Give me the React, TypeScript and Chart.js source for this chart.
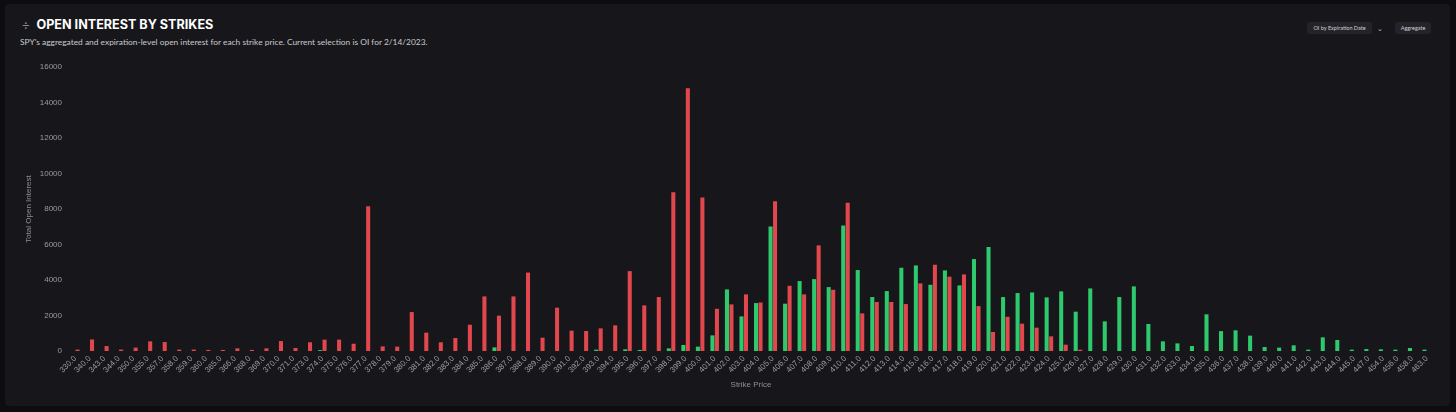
import React, { useEffect, useRef } from "react";
import { Chart, registerables } from "chart.js";

Chart.register(...registerables);

const strikes: string[] = [
  "330.0", "340.0", "343.0", "344.0", "350.0", "355.0", "357.0", "358.0", "359.0", "360.0",
  "365.0", "366.0", "368.0", "369.0", "370.0", "371.0", "373.0", "374.0", "375.0", "376.0",
  "377.0", "378.0", "379.0", "380.0", "381.0", "382.0", "383.0", "384.0", "385.0", "386.0",
  "387.0", "388.0", "389.0", "390.0", "391.0", "392.0", "393.0", "394.0", "395.0", "396.0",
  "397.0", "398.0", "399.0", "400.0", "401.0", "402.0", "403.0", "404.0", "405.0", "406.0",
  "407.0", "408.0", "409.0", "410.0", "411.0", "412.0", "413.0", "414.0", "415.0", "416.0",
  "417.0", "418.0", "419.0", "420.0", "421.0", "422.0", "423.0", "424.0", "425.0", "426.0",
  "427.0", "428.0", "429.0", "430.0", "431.0", "432.0", "433.0", "434.0", "435.0", "436.0",
  "437.0", "438.0", "439.0", "440.0", "441.0", "442.0", "443.0", "444.0", "445.0", "447.0",
  "454.0", "456.0", "458.0", "463.0",
];

// green series (calls)
const callOI: number[] = [
  0, 0, 0, 0, 0, 0, 0, 0, 0, 0,
  0, 0, 0, 0, 0, 0, 0, 50, 0, 0,
  0, 0, 0, 0, 0, 0, 0, 0, 0, 205,
  0, 0, 0, 0, 0, 0, 75, 0, 95, 60,
  0, 150, 340, 245, 880, 3470, 1950, 2700, 7015, 2665,
  3940, 4050, 3600, 7070, 4560, 3040, 3375, 4690, 4820, 3730,
  4540, 3695, 5180, 5860, 3040, 3265, 3300, 3020, 3360, 2215,
  3525, 1670, 3040, 3640, 1520, 545, 430, 280, 2065, 1120,
  1165, 865, 225, 190, 320, 75, 770, 620, 75, 110,
  95, 75, 170, 75,
];

// red series (puts)
const putOI: number[] = [
  80, 650, 280, 80, 190, 545, 505, 80, 80, 60,
  60, 150, 60, 150, 560, 170, 490, 640, 640, 410,
  8150, 260, 245, 2195, 1030, 490, 730, 1480, 3075, 1990,
  3075, 4420, 750, 2440, 1145, 1125, 1275, 1445, 4500, 2570,
  3040, 8950, 14800, 8650, 2380, 2625, 3190, 2730, 8440, 3675,
  3190, 5950, 3450, 8350, 2120, 2760, 2760, 2645, 3810, 4860,
  4185, 4315, 2530, 1070, 1930, 1540, 1315, 825, 355, 75,
  0, 0, 0, 0, 0, 0, 0, 0, 0, 0,
  0, 0, 0, 0, 0, 0, 0, 0, 0, 0,
  0, 0, 0, 0,
];

const yMax = 16000;
const yStep = 2000;

const GREEN = "#2ec86d";
const RED = "#e2474e";

export default function App() {
  const canvasRef = useRef<HTMLCanvasElement | null>(null);

  useEffect(() => {
    const canvas = canvasRef.current;
    if (!canvas) return;
    const chart = new Chart(canvas, {
      type: "bar",
      data: {
        labels: strikes,
        datasets: [
          {
            label: "Calls",
            data: callOI,
            backgroundColor: GREEN,
            borderWidth: 0,
            categoryPercentage: 0.62,
            barPercentage: 0.9,
          },
          {
            label: "Puts",
            data: putOI,
            backgroundColor: RED,
            borderWidth: 0,
            categoryPercentage: 0.62,
            barPercentage: 0.9,
          },
        ],
      },
      options: {
        responsive: false,
        animation: false,
        maintainAspectRatio: false,
        layout: { padding: { left: 0, right: 22, top: 67, bottom: 0 } },
        plugins: {
          legend: { display: false },
          tooltip: { enabled: false },
        },
        scales: {
          x: {
            grid: { display: false, drawTicks: false },
            border: { display: false },
            ticks: {
              color: "#9a9aa0",
              font: { size: 8, family: "'Liberation Sans', Arial, sans-serif" },
              autoSkip: false,
              maxRotation: 45,
              minRotation: 45,
              padding: 3,
            },
            title: {
              display: true,
              text: "Strike Price",
              color: "#8e8e94",
              font: { size: 8, family: "'Liberation Sans', Arial, sans-serif" },
              padding: { top: 0, bottom: 22.7 },
            },
            afterFit: (s: any) => {
              s.height = 61;
            },
          },
          y: {
            min: 0,
            max: yMax,
            grid: { display: false, drawTicks: false },
            border: { display: false },
            ticks: {
              stepSize: yStep,
              color: "#9a9aa0",
              font: { size: 8, family: "'Liberation Sans', Arial, sans-serif" },
              padding: 6,
              callback: (v: any) => String(v),
            },
            title: {
              display: true,
              text: "Total Open Interest",
              color: "#8e8e94",
              font: { size: 8, family: "'Liberation Sans', Arial, sans-serif" },
              padding: { top: 24, bottom: 0 },
            },
            afterFit: (s: any) => {
              s.width = 68;
            },
          },
        },
      },
    });
    return () => chart.destroy();
  }, []);

  return (
    <div
      style={{
        position: "fixed",
        left: 0,
        top: 0,
        width: 1456,
        height: 412,
        background: "#0d0d0f",
        overflow: "hidden",
        fontFamily: "Lato, 'Noto Sans', sans-serif",
      }}
    >
      <div
        style={{
          position: "absolute",
          left: 5,
          top: 4,
          width: 1445,
          height: 402,
          background: "#17171b",
          borderRadius: 4,
        }}
      />
      <div
        style={{
          position: "absolute",
          left: 22,
          top: 15,
          height: 20,
          lineHeight: "20px",
          fontSize: 13,
          color: "#8a8a90",
        }}
      >
        ÷
      </div>
      <div
        style={{
          position: "absolute",
          left: 36.5,
          top: 15,
          height: 20,
          lineHeight: "20px",
          fontSize: 12.6,
          fontWeight: 700,
          fontFamily: "Inter, Lato, sans-serif",
          color: "#ffffff",
          whiteSpace: "nowrap",
        }}
      >
        OPEN INTEREST BY STRIKES
      </div>
      <div
        style={{
          position: "absolute",
          left: 20,
          top: 35,
          height: 14,
          lineHeight: "14px",
          fontSize: 8.4,
          color: "#c9c9ce",
          whiteSpace: "nowrap",
        }}
      >
        SPY's aggregated and expiration-level open interest for each strike price. Current selection is OI for 2/14/2023.
      </div>
      <div
        style={{
          position: "absolute",
          left: 1307,
          top: 22,
          width: 65,
          height: 12,
          lineHeight: "12px",
          background: "#232328",
          borderRadius: 2,
          fontSize: 5.5,
          color: "#d0d0d4",
          textAlign: "center",
          whiteSpace: "nowrap",
        }}
      >
        OI by Expiration Date
      </div>
      <div
        style={{
          position: "absolute",
          left: 1375,
          top: 22,
          width: 9,
          height: 12,
          lineHeight: "12px",
          fontSize: 7,
          color: "#c0c0c4",
          textAlign: "center",
        }}
      >
        ⌄
      </div>
      <div
        style={{
          position: "absolute",
          left: 1395,
          top: 22,
          width: 36,
          height: 12,
          lineHeight: "12px",
          background: "#232328",
          borderRadius: 2,
          fontSize: 5.5,
          color: "#d0d0d4",
          textAlign: "center",
          whiteSpace: "nowrap",
        }}
      >
        Aggregate
      </div>
      <canvas
        ref={canvasRef}
        width={1456}
        height={412}
        style={{ position: "absolute", left: 0, top: 0, width: 1456, height: 412 }}
      />
    </div>
  );
}
